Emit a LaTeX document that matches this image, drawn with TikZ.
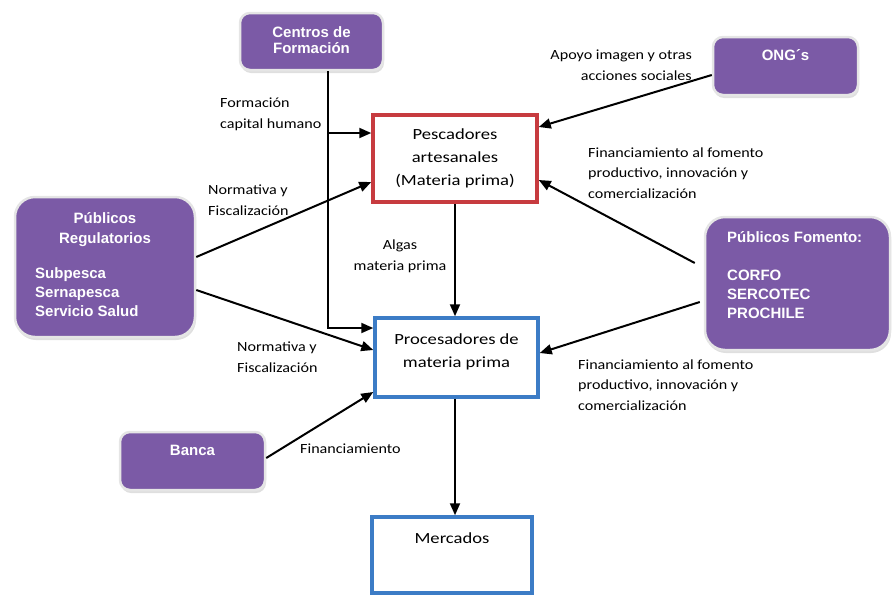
\documentclass[tikz,border=0pt]{standalone}
\usepackage{fontspec}
\setmainfont{Carlito}
\newfontfamily\boxfont{Liberation Sans}
\newfontfamily\lblfont[FakeStretch=1.15]{Carlito}
\newfontfamily\mainfont[FakeStretch=1.2]{Carlito}
\usetikzlibrary{arrows.meta,shadows,calc}

\definecolor{orgpurple}{HTML}{7B5AA6}
\definecolor{frameRed}{HTML}{C73B3F}
\definecolor{frameBlue}{HTML}{3C7CC6}

\tikzset{
  agent/.style={rectangle, rounded corners=12pt, fill=orgpurple, draw=black!10,
    line width=2.5pt, inner sep=0,
    drop shadow={opacity=0.25, shadow xshift=1pt, shadow yshift=-3pt}},
  agenttext/.style={text=white, inner sep=0,
    font=\boxfont\bfseries\fontsize{15}{19}\selectfont},
  chainbox/.style={rectangle, fill=white, line width=3.5pt, inner sep=0,
    align=center, font=\mainfont\fontsize{15.5}{23}\selectfont},
  maintext/.style={inner sep=0, align=center,
    font=\mainfont\fontsize{15.5}{23}\selectfont},
  flowlbl/.style={inner sep=0, align=left,
    font=\lblfont\fontsize{14}{20.5}\selectfont},
  arr/.style={draw=black, line width=2pt, -{Triangle[length=12pt,width=10pt]}}
}

\begin{document}
\begin{tikzpicture}[x=1pt,y=-1pt]
\useasboundingbox (0,0) rectangle (893,595);

% actors (purple boxes); multi-line texts are placed by the baseline of their last line
\node[agent, rounded corners=10pt, minimum width=143pt, minimum height=57pt] (cf) at (311.5,41.5) {};
\node[agenttext, anchor=base, align=center, font=\boxfont\bfseries\fontsize{15}{16}\selectfont] (cft) at (311.5,53.5) {Centros de\\Formación};

\node[agent, rounded corners=10pt, minimum width=145pt, minimum height=58pt] (ong) at (785.5,66) {};
\node[agenttext, anchor=base] (ongt) at (785.5,60.5) {ONG´s};

\node[agent, rounded corners=20pt, minimum width=180pt, minimum height=140pt] (preg) at (105,267) {};
\node[agenttext, anchor=base, align=center, font=\boxfont\bfseries\fontsize{15}{20}\selectfont] (pregt) at (105,243.5) {Públicos\\Regulatorios};
\node[agenttext, anchor=base west, align=left] (pregl) at (35,316.5) {Subpesca\\Sernapesca\\Servicio Salud};

\node[agent, rounded corners=20pt, minimum width=185pt, minimum height=133pt] (pfom) at (797.5,283.5) {};
\node[agenttext, anchor=base west, align=left] (pfomt) at (727,318.5) {Públicos Fomento:\\[19pt]CORFO\\SERCOTEC\\PROCHILE};

\node[agent, rounded corners=10pt, minimum width=145pt, minimum height=58pt] (banca) at (192.5,461) {};
\node[agenttext, anchor=base] (bancat) at (192.5,455.5) {Banca};

% value chain
\node[chainbox, draw=frameRed, minimum width=164pt, minimum height=87pt] (pesc) at (455,158.5) {Pescadores\\artesanales\\(Materia prima)};
\node[chainbox, draw=frameBlue, minimum width=163pt, minimum height=79pt] (proc) at (456.5,357.5) {};
\node[maintext, anchor=base] (proct) at (456.5,367) {Procesadores de\\materia prima};
\node[chainbox, draw=frameBlue, minimum width=160pt, minimum height=76pt] (merc) at (452,555) {};
\node[maintext, anchor=base] (merct) at (452,543) {Mercados};

% connectors
\coordinate (cfo) at ($(cf.south)+(16.5,0)$);
\draw[arr] (cfo) |- (proc.west |- 0,328);
\draw[arr] (cfo |- 0,133) -- (pesc.west |- 0,133);

\draw[arr] (preg.east |- 0,257) -- (pesc.west |- 0,182);
\draw[arr] (preg.east |- 0,290) -- (proc.west |- 0,350);
\draw[arr] (banca.east |- 0,458) -- (proc.west |- 0,392);
\draw[arr] (ong.west |- 0,75) -- (pesc.east |- 0,127);
\draw[arr] ($(pfom.west |- 0,263)+(-9,0)$) -- (pesc.east |- 0,180);
\draw[arr] ($(pfom.west |- 0,302)+(-4,0)$) -- (proc.east |- 0,353);
\draw[arr] (pesc.south -| 455,0) -- (proc.north -| 455,0);
\draw[arr] (proc.south -| 455,0) -- (merc.north -| 455,0);

% flow labels
\node[flowlbl, anchor=base west] (lfch) at (220,128) {Formación\\capital humano};
\node[flowlbl, anchor=base west] (lnf1) at (208,215) {Normativa y\\Fiscalización};
\node[flowlbl, anchor=base, align=center] (lalg) at (400,270) {Algas\\materia prima};
\node[flowlbl, anchor=base west] (lnf2) at (237,372) {Normativa y\\Fiscalización};
\node[flowlbl, anchor=base west] (lfin) at (300,453) {Financiamiento};
\node[flowlbl, anchor=base east, align=right] (lapo) at (692,80) {Apoyo imagen y otras\\acciones sociales};
\node[flowlbl, anchor=base west] (lff1) at (588,198) {Financiamiento al fomento\\productivo, innovación y\\comercialización};
\node[flowlbl, anchor=base west] (lff2) at (578,410) {Financiamiento al fomento\\productivo, innovación y\\comercialización};
\end{tikzpicture}
\end{document}
